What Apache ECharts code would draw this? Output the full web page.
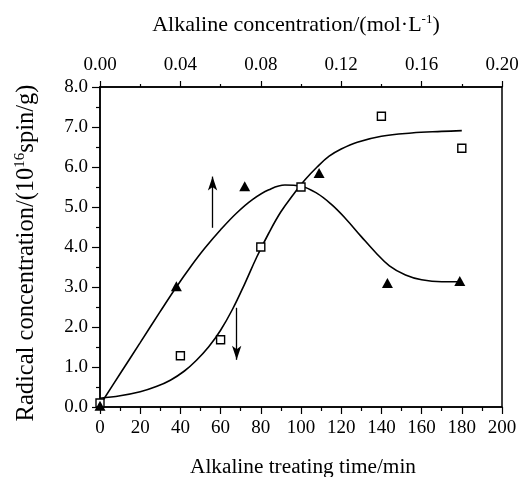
<!DOCTYPE html>
<html>
<head>
<meta charset="utf-8">
<script src="https://cdn.jsdelivr.net/npm/echarts@6/dist/echarts.min.js"></script>
<style>html,body{margin:0;padding:0;background:#fff}#c{width:519px;height:477px}</style>
</head>
<body>
<div id="c"></div>
<script>
// Squares: radical concentration vs alkaline treating time (bottom axis, min)
var squareTime = [0, 40, 60, 80, 100, 140, 180];
var squareValue = [0.1, 1.28, 1.68, 4.0, 5.5, 7.27, 6.47];
// Triangles: radical concentration vs alkaline concentration (top axis, mol/L)
var triConc = [0, 0.038, 0.072, 0.109, 0.143, 0.179];
var triValue = [0.03, 3.02, 5.52, 5.85, 3.1, 3.15];
// Fitted curve through squares (time axis)
var squareFitX = [0, 10, 20, 28, 35, 42, 48, 54, 60, 66, 72, 78, 84, 90, 96, 102, 108, 114, 120, 128, 140, 155, 170, 180];
var squareFitY = [0.22, 0.28, 0.38, 0.51, 0.67, 0.9, 1.17, 1.5, 1.92, 2.45, 3.08, 3.75, 4.35, 4.88, 5.3, 5.68, 6.0, 6.27, 6.45, 6.62, 6.77, 6.85, 6.89, 6.91];
// Fitted curve through triangles (concentration axis)
var triFitX = [0, 0.01, 0.02, 0.03, 0.038, 0.045, 0.052, 0.06, 0.068, 0.076, 0.084, 0.092, 0.1, 0.108, 0.115, 0.122, 0.13, 0.137, 0.144, 0.152, 0.16, 0.17, 0.18];
var triFitY = [0.05, 0.83, 1.61, 2.39, 3.0, 3.5, 3.96, 4.43, 4.85, 5.19, 5.43, 5.55, 5.52, 5.34, 5.07, 4.72, 4.26, 3.87, 3.53, 3.3, 3.18, 3.13, 3.13];
// Arrows (time axis coords): [x, yStart, yEnd]
var arrowUp = [56, 4.48, 5.76];
var arrowDown = [68, 2.48, 1.18];

function zip(a, b) { return a.map(function (v, i) { return [v, b[i]]; }); }

var FONT = 'Liberation Serif';
var chart = echarts.init(document.getElementById('c'), null, { renderer: 'canvas' });
chart.setOption({
  animation: false,
  backgroundColor: '#fff',
  grid: { left: 100, right: 17, top: 87, bottom: 70, outerBoundsMode: 'none', containLabel: false,
          show: true, borderColor: '#000', borderWidth: 1.5, backgroundColor: 'transparent' },
  xAxis: [{
    type: 'value', position: 'bottom', min: 0, max: 200, interval: 20,
    name: 'Alkaline treating time/min', nameLocation: 'middle', nameGap: 50,
    nameTextStyle: { fontFamily: FONT, fontSize: 21.3, color: '#000', padding: [0, 0, 0, 4] },
    axisLine: { show: true, lineStyle: { color: '#000', width: 1.5 } },
    axisTick: { show: true, inside: false, length: 7, lineStyle: { color: '#000', width: 1.2 } },
    minorTick: { show: true, splitNumber: 2, length: 4, lineStyle: { color: '#000', width: 1.2 } },
    axisLabel: { fontFamily: FONT, fontSize: 19, color: '#000', margin: 12 },
    splitLine: { show: false }
  }, {
    type: 'value', position: 'top', min: 0, max: 0.2, interval: 0.04,
    name: '{n|Alkaline concentration/(mol·L}{s|-1}{n|)}', nameLocation: 'middle', nameGap: 49,
    nameTextStyle: { fontFamily: FONT, fontSize: 22, color: '#000', padding: [0, 10, 0, 0],
      rich: { n: { fontFamily: FONT, fontSize: 22, color: '#000', lineHeight: 25 },
              s: { fontFamily: FONT, fontSize: 13, color: '#000', lineHeight: 14, verticalAlign: 'top' } } },
    axisLine: { show: true, lineStyle: { color: '#000', width: 1.5 } },
    axisTick: { show: true, inside: false, length: 6, lineStyle: { color: '#000', width: 1.2 } },
    minorTick: { show: true, splitNumber: 2, length: 3, lineStyle: { color: '#000', width: 1.2 } },
    axisLabel: { fontFamily: FONT, fontSize: 19, color: '#000', margin: 12, formatter: function (v) { return v.toFixed(2); } },
    splitLine: { show: false }
  }],
  yAxis: [{
    type: 'value', min: 0, max: 8, interval: 1,
    name: '{n|Radical concentration/(10}{s|16}{n|spin/g)}', nameLocation: 'middle', nameGap: 60, nameRotate: 90,
    nameTextStyle: { fontFamily: FONT, fontSize: 24.5, color: '#000', padding: [0, 12, 0, 0],
      rich: { n: { fontFamily: FONT, fontSize: 24.5, color: '#000', lineHeight: 27 },
              s: { fontFamily: FONT, fontSize: 15, color: '#000', lineHeight: 16, verticalAlign: 'top' } } },
    axisLine: { show: true, lineStyle: { color: '#000', width: 1.5 } },
    axisTick: { show: true, inside: false, length: 8, lineStyle: { color: '#000', width: 1.2 } },
    minorTick: { show: true, splitNumber: 2, length: 4, lineStyle: { color: '#000', width: 1.2 } },
    axisLabel: { fontFamily: FONT, fontSize: 19, color: '#000', margin: 12, formatter: function (v) { return v.toFixed(1); } },
    splitLine: { show: false }
  }],
  series: [{
    type: 'line', xAxisIndex: 0, yAxisIndex: 0, data: zip(squareFitX, squareFitY),
    smooth: 0.4, showSymbol: false, symbol: 'none', z: 2,
    lineStyle: { color: '#000', width: 1.6 },
    markLine: {
      silent: true, symbol: ['none', 'arrow'], symbolSize: [7, 14], label: { show: false },
      lineStyle: { color: '#000', width: 1.3, type: 'solid' },
      data: [
        [{ coord: [arrowUp[0], arrowUp[1]] }, { coord: [arrowUp[0], arrowUp[2]] }],
        [{ coord: [arrowDown[0], arrowDown[1]] }, { coord: [arrowDown[0], arrowDown[2]] }]
      ]
    }
  }, {
    type: 'line', xAxisIndex: 1, yAxisIndex: 0, data: zip(triFitX, triFitY),
    smooth: 0.4, showSymbol: false, symbol: 'none', z: 2,
    lineStyle: { color: '#000', width: 1.6 }
  }, {
    type: 'scatter', xAxisIndex: 0, yAxisIndex: 0, data: zip(squareTime, squareValue),
    symbol: 'rect', symbolSize: 8, z: 5,
    itemStyle: { color: '#fff', borderColor: '#000', borderWidth: 1.4, opacity: 1 }
  }, {
    type: 'scatter', xAxisIndex: 1, yAxisIndex: 0, data: zip(triConc, triValue),
    symbol: 'triangle', symbolSize: [11, 10], z: 6,
    itemStyle: { color: '#000', opacity: 1 }
  }]
});
</script>
</body>
</html>
